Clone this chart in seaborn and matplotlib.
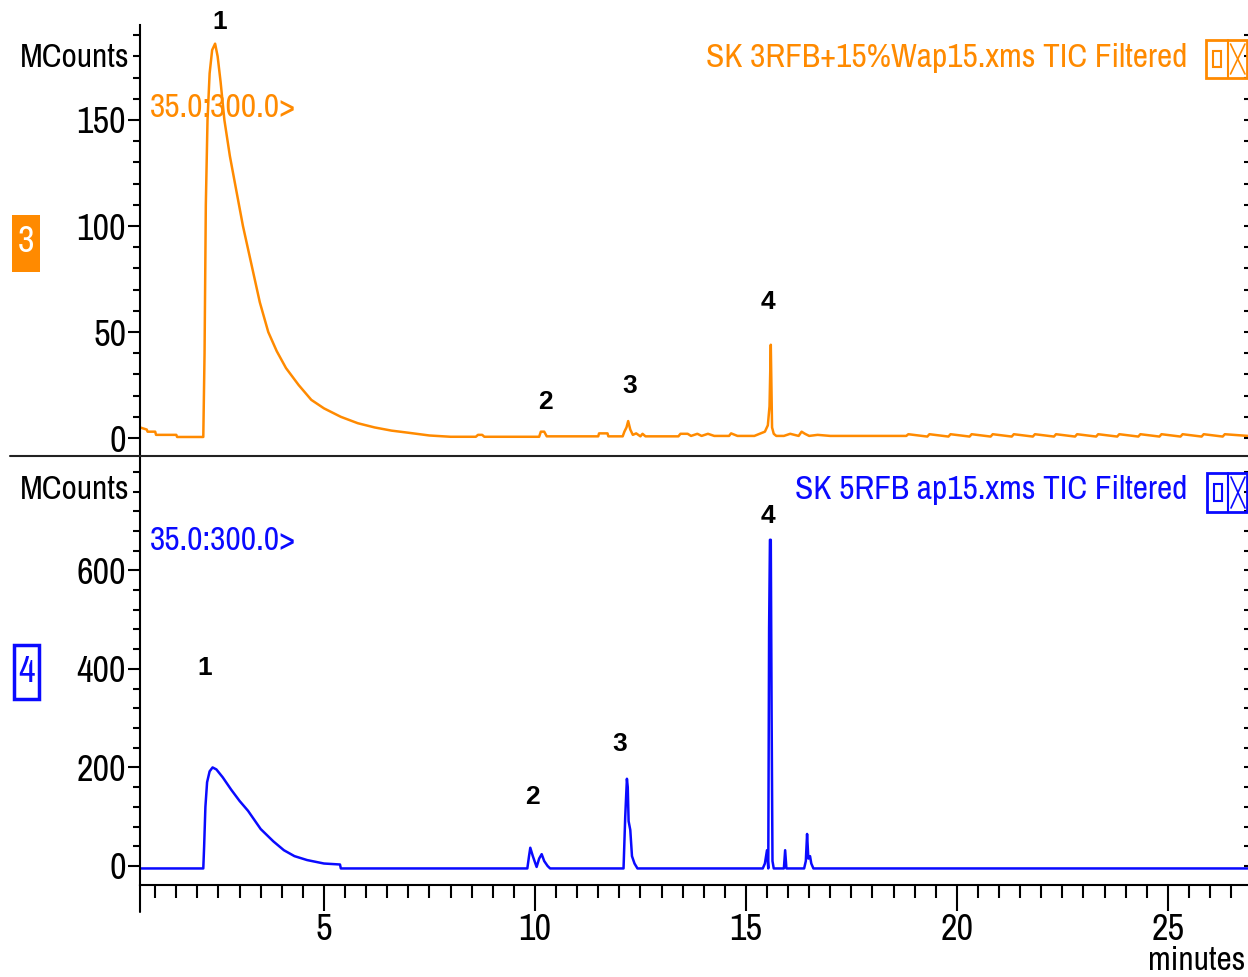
import numpy as np
import pandas as pd
import matplotlib
matplotlib.use("Agg")
import matplotlib.pyplot as plt
from matplotlib.patches import Rectangle
from matplotlib.lines import Line2D
from matplotlib.ticker import MultipleLocator, FixedLocator
import seaborn as sns

# ---- data (time in minutes, signal in MCounts) ----
top_time = [0.64, 0.80, 0.82, 1.00, 1.02, 1.50, 1.52, 2.14, 2.17, 2.20, 2.24, 2.29,
            2.35, 2.42, 2.48, 2.55, 2.64, 2.77, 2.92, 3.08, 3.28, 3.48, 3.68, 3.88,
            4.10, 4.40, 4.70, 5.00, 5.40, 5.80, 6.20, 6.60, 7.00, 7.50, 8.00, 8.60,
            8.65, 8.75, 8.80, 10.10, 10.14, 10.22, 10.28, 11.50, 11.52, 11.72, 11.74,
            12.08, 12.12, 12.17, 12.21, 12.26, 12.32, 12.40, 12.50, 12.55, 12.62,
            13.40, 13.45, 13.62, 13.70, 13.85, 13.95, 14.10, 14.25, 14.60, 14.65,
            14.80, 15.20, 15.45, 15.52, 15.56, 15.59, 15.62, 15.66, 15.72, 15.90,
            16.05, 16.25, 16.32, 16.40, 16.50, 16.70, 17.00, 17.40, 18.00, 18.80,
            18.85, 19.30, 19.35, 19.80, 19.85, 20.30, 20.35, 20.80, 20.85, 21.30,
            21.35, 21.80, 21.85, 22.30, 22.35, 22.80, 22.85, 23.30, 23.35, 23.80,
            23.85, 24.30, 24.35, 24.80, 24.85, 25.30, 25.35, 25.80, 25.85, 26.30,
            26.35, 26.90]
top_signal = [5.0, 4.0, 3.0, 3.0, 1.5, 1.5, 0.5, 0.5, 40, 110, 150, 172,
              183, 186, 180, 168, 150, 133, 117, 100, 82, 64, 50, 41,
              33, 25, 18, 14, 10, 7, 5, 3.5, 2.5, 1.2, 0.6, 0.6,
              1.5, 1.5, 0.6, 0.6, 3.0, 3.0, 0.8, 0.8, 2.2, 2.2, 0.8,
              0.8, 3.0, 5.0, 8.0, 4.0, 1.5, 2.2, 0.8, 2.0, 0.8,
              0.8, 2.0, 2.0, 1.0, 2.0, 1.0, 2.0, 1.0, 1.0, 2.2,
              1.0, 1.0, 3.0, 6.0, 15, 44, 5.0, 2.0, 1.0, 1.0,
              2.0, 1.0, 3.0, 2.0, 1.0, 1.5, 1.0, 1.0, 1.0, 1.0,
              1.8, 0.7, 1.8, 0.7, 1.8, 0.7, 1.8, 0.7, 1.8, 0.7,
              1.8, 0.7, 1.8, 0.7, 1.8, 0.7, 1.8, 0.7, 1.8, 0.7,
              1.8, 0.7, 1.8, 0.7, 1.8, 0.7, 1.8, 0.7, 1.8, 0.7,
              1.8, 1.0]

bottom_time = [0.64, 2.14, 2.16, 2.19, 2.23, 2.29, 2.36, 2.45, 2.60, 2.80, 3.00,
               3.20, 3.50, 3.80, 4.05, 4.30, 4.60, 5.00, 5.38, 5.40, 9.82, 9.86,
               9.89, 9.95, 10.04, 10.10, 10.16, 10.22, 10.30, 10.36, 12.10, 12.14,
               12.18, 12.20, 12.22, 12.26, 12.30, 12.36, 12.43, 15.40, 15.45,
               15.50, 15.53, 15.55, 15.57, 15.59, 15.61, 15.63, 15.66, 15.90,
               15.93, 15.96, 16.38, 16.42, 16.45, 16.48, 16.52, 16.55, 16.60, 26.90]
bottom_signal = [-5, -5, 40, 120, 170, 192, 200, 196, 180, 155, 132,
                 112, 75, 50, 32, 20, 12, 5, 3, -5, -5, 20,
                 37, 20, -2, 15, 24, 10, 0, -5, -5, 100,
                 177, 160, 91, 73, 20, 5, -5, -5, 5,
                 32, -5, 483, 662, 662, 300, 10, -5, -5,
                 32, -5, -5, 10, 65, 15, 20, 5, -5, -5]

top_yticks = [0, 50, 100, 150]
bottom_yticks = [0, 200, 400, 600]
top_title = "SK 3RFB+15%Wap15.xms TIC Filtered"
bottom_title = "SK 5RFB ap15.xms TIC Filtered"
mass_range = "35.0:300.0>"
top_peaks = {"1": (2.54, 196), "2": (10.24, 17), "3": (12.25, 24.5), "4": (15.52, 64)}
bottom_peaks = {"1": (2.18, 402), "2": (9.93, 140), "3": (12.0, 248), "4": (15.52, 710)}

ORANGE = "#ff8a00"
BLUE = "#0a0aff"
W, H = 1248, 977
FS_TICK = 26   # tick numbers
FS = 24        # other instrument texts

sns.set_style("ticks")
plt.rcParams["font.family"] = ["Archivo Narrow", "DejaVu Sans"]
plt.rcParams["text.color"] = "black"
plt.rcParams["xtick.color"] = "black"
plt.rcParams["ytick.color"] = "black"


def fx(px):
    return px / W


def fy(py):
    return 1 - py / H


fig = plt.figure(figsize=(W / 100, H / 100), dpi=100)
ax_top = fig.add_axes([fx(140), fy(455), fx(1248) - fx(140), fy(25) - fy(455)])
ax_bot = fig.add_axes([fx(140), fy(885), fx(1248) - fx(140), fy(458) - fy(885)])

df_top = pd.DataFrame({"time": top_time, "signal": top_signal})
df_bot = pd.DataFrame({"time": bottom_time, "signal": bottom_signal})

sns.lineplot(data=df_top, x="time", y="signal", ax=ax_top, color=ORANGE,
             estimator=None, sort=False, linewidth=1.8)
sns.lineplot(data=df_bot, x="time", y="signal", ax=ax_bot, color=BLUE,
             estimator=None, sort=False, linewidth=1.8)

xlim = (0.64, 26.9)
ax_top.set_xlim(*xlim)
ax_bot.set_xlim(*xlim)
ax_top.set_ylim(-8, 194.8)
ax_bot.set_ylim(-38.6, 828)

for ax, majors, minor in [(ax_top, top_yticks, 10), (ax_bot, bottom_yticks, 40)]:
    ax.set_xlabel("")
    ax.set_ylabel("")
    ax.yaxis.set_major_locator(FixedLocator(majors))
    ax.yaxis.set_minor_locator(MultipleLocator(minor))
    ax.spines["top"].set_visible(False)
    ax.spines["right"].set_visible(False)
    ax.spines["left"].set_linewidth(1.5)
    ax.spines["left"].set_color("black")
    ax.tick_params(axis="y", which="major", length=9, width=1.5, labelsize=FS_TICK, pad=1)
    ax.tick_params(axis="y", which="minor", length=5, width=1.5)
    # small inward dashes on the right edge
    twin = ax.twinx()
    twin.set_ylim(ax.get_ylim())
    twin.yaxis.set_major_locator(MultipleLocator(minor))
    twin.tick_params(axis="y", direction="in", length=3, width=1.5, labelright=False)
    for s in twin.spines.values():
        s.set_visible(False)

# the top panel carries no time axis
ax_top.spines["bottom"].set_visible(False)
ax_top.tick_params(axis="x", which="both", bottom=False, labelbottom=False)

ax_bot.spines["bottom"].set_linewidth(1.5)
ax_bot.spines["bottom"].set_color("black")
ax_bot.xaxis.set_major_locator(MultipleLocator(5))
ax_bot.xaxis.set_minor_locator(MultipleLocator(0.5))
ax_bot.tick_params(axis="x", which="major", length=19, width=1.5, labelsize=FS_TICK, pad=1)
ax_bot.tick_params(axis="x", which="minor", length=9, width=1.5)

# labels in the style of the instrument software
fig.text(fx(130), fy(58), "MCounts", fontsize=FS, ha="right", va="center")
fig.text(fx(130), fy(490), "MCounts", fontsize=FS, ha="right", va="center")
fig.text(fx(1245), fy(961), "minutes", fontsize=FS, ha="right", va="center")

fig.text(fx(1187), fy(58), top_title, fontsize=FS, color=ORANGE, ha="right", va="center")
fig.text(fx(1187), fy(490), bottom_title, fontsize=FS, color=BLUE, ha="right", va="center")
fig.text(fx(150), fy(108), mass_range, fontsize=FS, color=ORANGE, ha="left", va="center")
fig.text(fx(150), fy(541), mass_range, fontsize=FS, color=BLUE, ha="left", va="center")

for ax, peaks in [(ax_top, top_peaks), (ax_bot, bottom_peaks)]:
    for lab, (t, v) in peaks.items():
        ax.text(t, v, lab, fontsize=19, fontweight="bold", family=["Liberation Sans", "DejaVu Sans"],
                ha="center", va="center", clip_on=False)

# trace number boxes
fig.patches.append(Rectangle((fx(12), fy(272)), fx(28), fy(215) - fy(272),
                             transform=fig.transFigure, facecolor=ORANGE, edgecolor="none"))
fig.text(fx(26), fy(241), "3", fontsize=FS_TICK, color="white", ha="center", va="center")
fig.patches.append(Rectangle((fx(14), fy(699)), fx(25), fy(645) - fy(699),
                             transform=fig.transFigure, facecolor="none", edgecolor=BLUE, linewidth=2.5))
fig.text(fx(26), fy(672), "4", fontsize=FS_TICK, color=BLUE, ha="center", va="center")


def window_icon(x0, y0, x1, y1, color):
    fig.patches.append(Rectangle((fx(x0), fy(y1)), fx(x1 - x0), fy(y0) - fy(y1),
                                 transform=fig.transFigure, facecolor="none", edgecolor=color, linewidth=2))
    xm = (x0 + x1) / 2 + 1
    fig.lines.append(Line2D([fx(xm), fx(xm)], [fy(y0), fy(y1)], transform=fig.transFigure,
                            color=color, linewidth=1.5))
    fig.patches.append(Rectangle((fx(x0 + 7), fy(y1 - 11)), fx(8), fy(y0 + 11) - fy(y1 - 11),
                                 transform=fig.transFigure, facecolor="none", edgecolor=color, linewidth=1.5))
    fig.lines.append(Line2D([fx(xm + 3), fx(x1 - 2)], [fy(y0 + 4), fy(y1 - 4)],
                            transform=fig.transFigure, color=color, linewidth=1.2))
    fig.lines.append(Line2D([fx(xm + 3), fx(x1 - 2)], [fy(y1 - 4), fy(y0 + 4)],
                            transform=fig.transFigure, color=color, linewidth=1.2))


window_icon(1206, 40, 1247, 78, ORANGE)
window_icon(1207, 473, 1247, 512, BLUE)

# separator between the two traces and the spine running below the time axis
fig.lines.append(Line2D([fx(10), 1], [fy(456), fy(456)], transform=fig.transFigure,
                        color="#222222", linewidth=1.5))
fig.lines.append(Line2D([fx(140), fx(140)], [fy(885), fy(912)], transform=fig.transFigure,
                        color="black", linewidth=1.5))

fig.savefig("out.png", dpi=100)
